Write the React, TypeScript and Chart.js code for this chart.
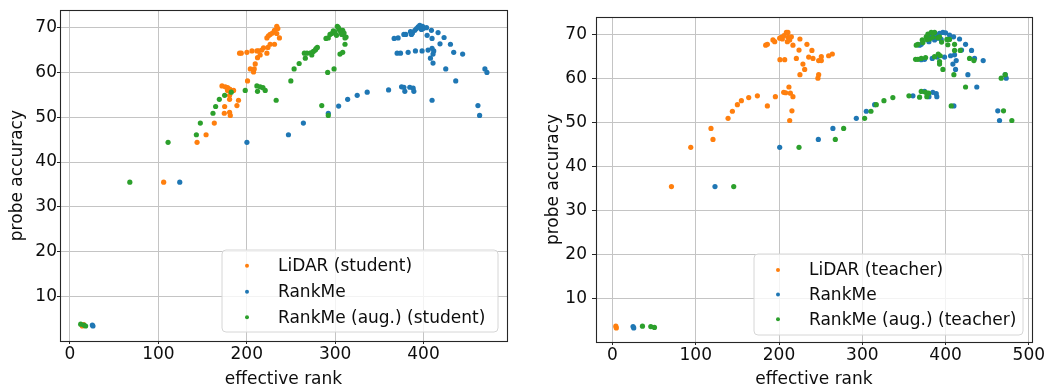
import React, { useEffect, useRef } from 'react';
import { Chart, registerables } from 'chart.js';

Chart.register(...registerables);

type Pt = [number, number];

const COLOR_LIDAR = '#ff7f0e';
const COLOR_RANKME = '#1f77b4';
const COLOR_AUG = '#2ca02c';
const FONT_FAMILY = '"DejaVu Sans", "Liberation Sans", sans-serif';
const TEXT_COLOR = '#0d0d0d';
const GRID_COLOR = '#c4c4c4';

const xTickValues = [0, 100, 200, 300, 400, 500];
const yTickValues = [10, 20, 30, 40, 50, 60, 70];

const xAxisTitle = 'effective rank';
const yAxisTitle = 'probe accuracy';

const studentLabels = ['LiDAR (student)', 'RankMe', 'RankMe (aug.) (student)'];
const teacherLabels = ['LiDAR (teacher)', 'RankMe', 'RankMe (aug.) (teacher)'];

// ---------- Left panel (student) ----------
const lidarStudent: Pt[] = [
  [106, 35.5], [14, 3.4], [15.5, 3.7], [143.8, 44.4], [154, 46.1], [163.3, 48.7], [174.6, 50.9],
  [175, 52.4], [180.6, 51.1], [181.4, 50.4], [188.9, 52.6], [190.7, 53.8], [180.6, 54.9], [180.6, 54],
  [178.3, 56], [185.1, 56], [172, 57], [175.7, 56.8], [178.3, 56.6], [180.6, 56.3], [181.4, 56.1],
  [200.9, 58.1], [204, 60.8], [208.5, 60.8], [207.7, 60.1], [209.6, 61.9], [215.2, 63.9], [212.2, 63.3],
  [222.8, 64.3], [191.9, 64.3], [193.8, 64.3], [200.2, 64.5], [205.9, 64.8], [211.5, 64.8], [213.3, 64.8],
  [217, 65], [219, 65.5], [224, 65.6], [226.5, 66.3], [231.4, 66.3], [222.8, 67.7], [237, 67.7],
  [224.6, 68.2], [226.5, 68.5], [229.1, 68.8], [234, 68.7], [231.4, 69.4], [235.2, 69.8], [234, 70.3],
];

const rankmeStudent: Pt[] = [
  [25.3, 3.6], [26, 3.4], [124.2, 35.5], [200.2, 44.4], [247.2, 46.1], [264.1, 48.7], [292.3, 50.9],
  [304, 52.5], [314.2, 54], [325, 54.9], [336.3, 55.6], [360.5, 56.1], [375.2, 56.8], [377.8, 56.7],
  [378.9, 55.8], [384.5, 56.7], [388.3, 56.5], [389.1, 55.8], [409.7, 53.8], [436.5, 58.1], [425.2, 60.8],
  [461.6, 52.6], [463.5, 50.4], [469.5, 60.8], [471.8, 60], [370.2, 64.3], [374, 64.3], [382.6, 64.5],
  [390.9, 64.8], [398.4, 64.8], [405.2, 65], [409.7, 65.4], [410.8, 64.1], [411.6, 64.8], [407.9, 63.2],
  [410.8, 62.1], [366.8, 67.6], [371.3, 67.7], [377.8, 68.5], [380, 68.5], [385.3, 69.1], [386.4, 68.5],
  [387.5, 68.8], [390.2, 69.4], [392.1, 69.8], [394, 70.2], [395.8, 70.5], [398.9, 70.3], [399.5, 69.8],
  [397.7, 69.6], [403.4, 70], [409, 69.4], [404.1, 68.3], [409.7, 67.6], [416.5, 68.9], [423.3, 67.8],
  [418.7, 66.4], [430.5, 66.3], [434.2, 64.5], [444.3, 64.1],
];

const augStudent: Pt[] = [
  [12.1, 3.8], [15.8, 3.6], [17.7, 3.4], [67.7, 35.5], [111, 44.4], [143, 46.1], [147.5, 48.7],
  [161.8, 50.9], [164.8, 52.4], [169, 54], [175, 54.9], [182.5, 55.6], [198.3, 56], [211.5, 57],
  [215.2, 56.8], [218.3, 56.6], [220.9, 56], [212.2, 55.8], [233.3, 53.8], [249.9, 58.1], [253.6, 60.8],
  [259.3, 62], [265.2, 64.3], [266.3, 63.2], [268.2, 64.3], [272.4, 64.4], [273.6, 63.9], [275.4, 64.7],
  [277.6, 65], [278.4, 65.3], [279.9, 65.6], [284.9, 52.6], [291.6, 60], [292.3, 50.4], [298.8, 60.8],
  [305.5, 64.1], [308.6, 64.5], [311.2, 66.3], [289.7, 67.6], [292.3, 67.7], [294.2, 68.5], [296.2, 68.7],
  [298, 69.3], [299.9, 69], [301.6, 68.3], [302.5, 70.3], [303.7, 70], [304.8, 69.6], [306.4, 69],
  [308.6, 69.4], [307.5, 68.5], [310.1, 68.8], [311.2, 67.7], [312.4, 67.9],
];

// ---------- Right panel (teacher) ----------
const lidarTeacher: Pt[] = [
  [4, 3.8], [4.6, 3.4], [70.8, 35.5], [94, 44.4], [120.7, 46.2], [118.3, 48.7], [138.8, 51],
  [144, 52.6], [150, 54.1], [154.8, 55], [163.6, 55.7], [174, 56.1], [186, 53.8], [195.6, 55.9],
  [205.6, 56.9], [208, 56.8], [213.6, 56.7], [216.7, 55.9], [211.9, 58.1], [215.5, 52.7], [212.8, 50.5],
  [184, 67.6], [186, 67.8], [192.7, 68.8], [194.8, 68.4], [200.8, 69.2], [202.8, 69.4], [204, 69],
  [205.9, 69.8], [208.8, 70.5], [210.7, 70.5], [210.7, 69.4], [210, 68.4], [212.8, 68.8], [214.8, 69.5],
  [216.7, 67.6], [225.1, 69], [233.5, 67.8], [224, 66.5], [239.5, 66.4], [235.6, 64.9], [240.8, 64.6],
  [228.7, 63.3], [230.8, 62.1], [225.1, 60.9], [201.1, 64.3], [206.8, 64.3], [220.8, 64.6], [247.6, 64.1],
  [250.8, 64.1], [250.8, 65], [259.6, 65.2], [264, 65.6], [247.6, 60.9], [246.7, 60.1],
];

const rankmeTeacher: Pt[] = [
  [24.7, 3.7], [25.5, 3.4], [123.1, 35.5], [200.8, 44.4], [247.2, 46.2], [264.7, 48.7], [292.8, 51],
  [304.8, 52.6], [314.8, 54.1], [360.8, 56.1], [374.8, 57.1], [384.7, 56.9], [388.8, 56.6], [389.5, 55.9],
  [380, 55.9], [410, 53.8], [437.5, 58.1], [462.7, 52.7], [464.8, 50.5], [471.6, 60.9], [472.8, 60.1],
  [426.8, 60.9], [412, 62.1], [408.8, 63.3], [412.8, 64.1], [445.2, 64.1], [434.8, 64.6], [398.8, 64.9],
  [406, 65.2], [410.8, 65.4], [374.8, 64.4], [370.8, 64.3], [384, 64.6], [390, 64.9], [368.8, 67.6],
  [370.8, 67.8], [380, 68.4], [386.8, 68.8], [390.7, 69.2], [394.8, 68.9], [380.8, 69.4], [384.7, 69.5],
  [388.8, 69.9], [392.8, 70.3], [396.8, 70.5], [400, 70.4], [404.8, 69.9], [409.6, 69.5], [416.8, 69],
  [424, 67.8], [431.2, 66.4], [419.2, 66.5],
];

const augTeacher: Pt[] = [
  [36, 3.8], [46, 3.7], [50.4, 3.5], [145.6, 35.5], [224, 44.4], [267.6, 46.2], [277.6, 48.7],
  [302.8, 51], [310.4, 52.6], [316.8, 54.1], [326, 55], [336.7, 55.7], [356, 56.1], [368.8, 55.8],
  [370.8, 57.1], [376, 56.9], [379.6, 56.7], [377.5, 55.9], [406.8, 53.8], [424, 58.1], [410, 60.9],
  [396.8, 62.1], [392.8, 63.3], [392.8, 63.9], [364, 64.4], [366.8, 64.4], [370.8, 64.6], [376, 64.8],
  [386.8, 65], [391.2, 65.6], [393.6, 65.2], [428.8, 64.6], [434, 64.1], [410.8, 66.4], [417.6, 66.4],
  [364.8, 67.6], [366.8, 67.8], [372, 68.8], [372.8, 68.2], [376.8, 69.5], [377.5, 68.9], [378.8, 70.1],
  [380.8, 69], [382.8, 70.5], [384.7, 69.4], [386.8, 70.5], [390.7, 69.3], [392.8, 69.5], [395.2, 68.3],
  [401.6, 68.9], [404.8, 68.9], [402.7, 67.7], [410.8, 67.8], [466.8, 60.1], [471.6, 60.9], [469.6, 52.7],
  [479.6, 50.5],
];

type PanelSpec = {
  width: number;
  height: number;
  xMin: number; xMax: number; yMin: number; yMax: number;
  yAxisWidth: number; xAxisHeight: number;
  padTop: number; padRight: number;
  yTitlePad: number; yTickPad: number; yTickLen: number;
  legendBox: [number, number, number, number];
  legendMarkerX: number; legendTextX: number; legendRows: number[];
  labels: string[];
  series: Pt[][];
};

const COLORS = [COLOR_LIDAR, COLOR_RANKME, COLOR_AUG];

const leftSpec: PanelSpec = {
  width: 525, height: 392,
  xMin: -11.3, xMax: 494.5, yMin: 0.05, yMax: 73.9,
  yAxisWidth: 60, xAxisHeight: 51, padTop: 7, padRight: 18,
  yTitlePad: 7, yTickPad: 0, yTickLen: 3,
  legendBox: [222, 250, 498, 332],
  legendMarkerX: 247, legendTextX: 278, legendRows: [265.7, 291.7, 317.3],
  labels: studentLabels,
  series: [lidarStudent, rankmeStudent, augStudent],
};

const rightSpec: PanelSpec = {
  width: 526, height: 392,
  xMin: -19.8, xMax: 503.8, yMin: 0.2, yMax: 74.0,
  yAxisWidth: 71, xAxisHeight: 50, padTop: 17, padRight: 19,
  yTitlePad: 18, yTickPad: 5, yTickLen: 4,
  legendBox: [229, 254, 498, 335],
  legendMarkerX: 253, legendTextX: 284, legendRows: [270, 294.5, 319.3],
  labels: teacherLabels,
  series: [lidarTeacher, rankmeTeacher, augTeacher],
};

function buildConfig(spec: PanelSpec): any {
  const framePlugin = {
    id: 'frameAndLegend',
    afterDraw(chart: any) {
      const { ctx, chartArea } = chart;
      ctx.save();
      ctx.strokeStyle = '#262626';
      ctx.lineWidth = 1.1;
      ctx.strokeRect(
        Math.round(chartArea.left) + 0.5,
        Math.round(chartArea.top) + 0.5,
        Math.round(chartArea.right - chartArea.left),
        Math.round(chartArea.bottom - chartArea.top)
      );
      // legend
      const [x0, y0, x1, y1] = spec.legendBox;
      const r = 4;
      ctx.beginPath();
      ctx.moveTo(x0 + r, y0);
      ctx.lineTo(x1 - r, y0);
      ctx.quadraticCurveTo(x1, y0, x1, y0 + r);
      ctx.lineTo(x1, y1 - r);
      ctx.quadraticCurveTo(x1, y1, x1 - r, y1);
      ctx.lineTo(x0 + r, y1);
      ctx.quadraticCurveTo(x0, y1, x0, y1 - r);
      ctx.lineTo(x0, y0 + r);
      ctx.quadraticCurveTo(x0, y0, x0 + r, y0);
      ctx.closePath();
      ctx.fillStyle = 'rgba(255,255,255,0.8)';
      ctx.fill();
      ctx.strokeStyle = '#d6d6d6';
      ctx.lineWidth = 1;
      ctx.stroke();
      ctx.font = `17px ${FONT_FAMILY}`;
      ctx.textBaseline = 'middle';
      ctx.textAlign = 'left';
      spec.labels.forEach((label, i) => {
        const y = spec.legendRows[i];
        ctx.beginPath();
        ctx.arc(spec.legendMarkerX, y, 2, 0, Math.PI * 2);
        ctx.fillStyle = COLORS[i];
        ctx.fill();
        ctx.fillStyle = TEXT_COLOR;
        ctx.fillText(label, spec.legendTextX, y + 1);
      });
      ctx.restore();
    },
  };

  return {
    type: 'scatter',
    data: {
      datasets: spec.series.map((pts, i) => ({
        label: spec.labels[i],
        data: pts.map(([x, y]) => ({ x, y })),
        backgroundColor: COLORS[i],
        borderWidth: 0,
        pointRadius: 2.6,
        pointHoverRadius: 2.6,
        order: 3 - i,
      })),
    },
    options: {
      animation: false,
      responsive: false,
      devicePixelRatio: 1,
      layout: { padding: { top: spec.padTop, right: spec.padRight, left: 0, bottom: 0 } },
      plugins: { legend: { display: false }, tooltip: { enabled: false } },
      scales: {
        x: {
          type: 'linear',
          min: spec.xMin,
          max: spec.xMax,
          afterBuildTicks: (axis: any) => {
            axis.ticks = xTickValues.filter((v) => v >= spec.xMin && v <= spec.xMax).map((v) => ({ value: v }));
          },
          afterFit: (scale: any) => { scale.height = spec.xAxisHeight; },
          ticks: {
            includeBounds: false,
            autoSkip: false,
            maxRotation: 0,
            padding: 0,
            color: TEXT_COLOR,
            font: { family: FONT_FAMILY, size: 17 },
          },
          grid: { color: GRID_COLOR, lineWidth: 1, drawTicks: true, tickLength: 3, tickColor: '#262626' },
          border: { display: false },
          title: {
            display: true,
            text: xAxisTitle,
            color: TEXT_COLOR,
            font: { family: FONT_FAMILY, size: 17 },
            padding: { top: 0, bottom: 2 },
          },
        },
        y: {
          type: 'linear',
          min: spec.yMin,
          max: spec.yMax,
          afterBuildTicks: (axis: any) => {
            axis.ticks = yTickValues.filter((v) => v >= spec.yMin && v <= spec.yMax).map((v) => ({ value: v }));
          },
          afterFit: (scale: any) => { scale.width = spec.yAxisWidth; },
          ticks: {
            includeBounds: false,
            autoSkip: false,
            padding: spec.yTickPad,
            color: TEXT_COLOR,
            font: { family: FONT_FAMILY, size: 17 },
          },
          grid: { color: GRID_COLOR, lineWidth: 1, drawTicks: true, tickLength: spec.yTickLen, tickColor: '#262626' },
          border: { display: false },
          title: {
            display: true,
            text: yAxisTitle,
            color: TEXT_COLOR,
            font: { family: FONT_FAMILY, size: 17 },
            padding: { top: spec.yTitlePad, bottom: 0 },
          },
        },
      },
    },
    plugins: [framePlugin],
  };
}

function Panel({ spec, left }: { spec: PanelSpec; left: number }) {
  const ref = useRef<HTMLCanvasElement | null>(null);
  useEffect(() => {
    if (!ref.current) return;
    const chart = new Chart(ref.current, buildConfig(spec));
    return () => chart.destroy();
  }, [spec]);
  return (
    <canvas
      ref={ref}
      width={spec.width}
      height={spec.height}
      style={{ position: 'absolute', left, top: 0, width: spec.width, height: spec.height }}
    />
  );
}

export default function App() {
  return (
    <div style={{ position: 'absolute', left: 0, top: 0, width: 1051, height: 392, background: '#fff', overflow: 'hidden' }}>
      <Panel spec={leftSpec} left={0} />
      <Panel spec={rightSpec} left={525} />
    </div>
  );
}
